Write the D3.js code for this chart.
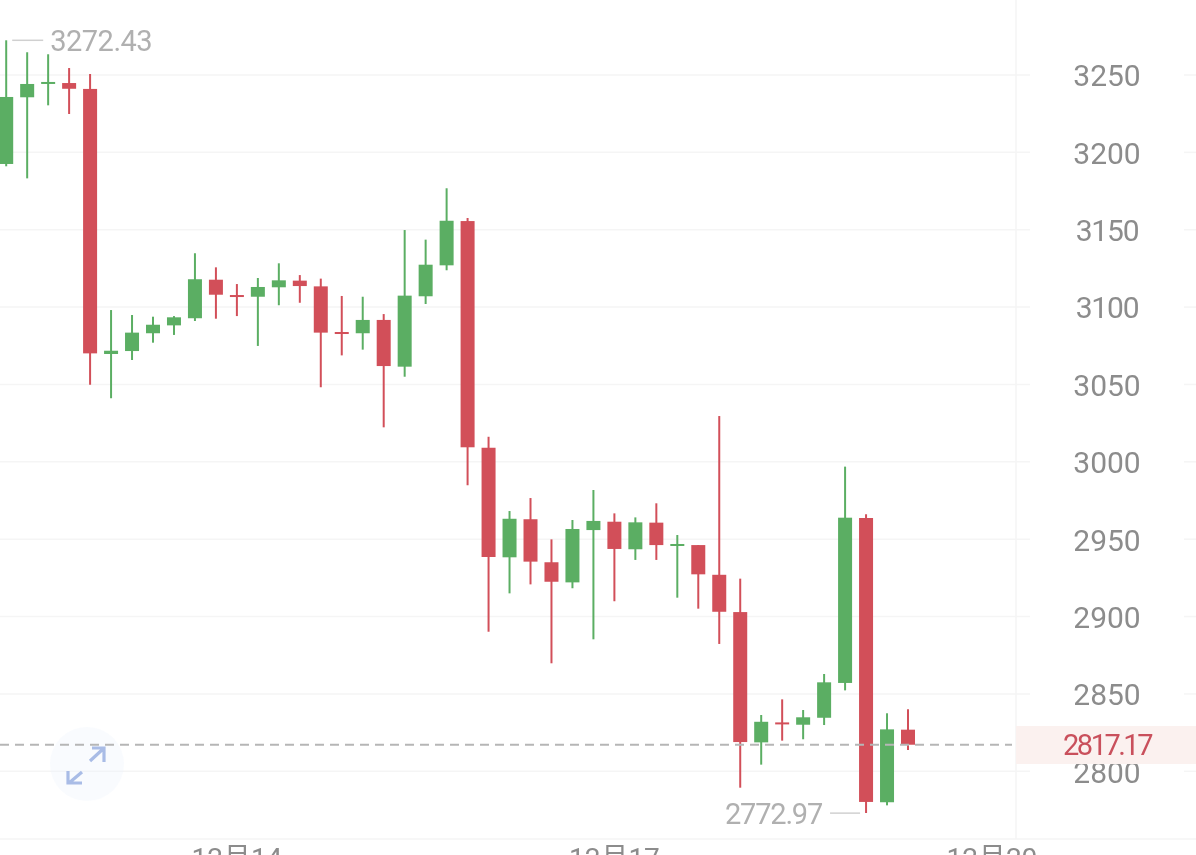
<!DOCTYPE html>
<html><head><meta charset="utf-8">
<script src="https://cdn.jsdelivr.net/npm/d3@7/dist/d3.min.js"></script>
<style>html,body{margin:0;padding:0;background:#fff;overflow:hidden}svg{display:block;filter:blur(0.35px)}text{font-family:Roboto,"Noto Sans CJK SC",sans-serif}</style>
</head><body><svg id="c" width="1196" height="855"></svg>
<script>
const open  = [3192.5,3235.6,3244.5,3244.8,3241.0,3069.7,3071.6,3083.1,3088.2,3092.8,3117.7,3107.8,3106.7,3112.8,3117.1,3113.4,3083.9,3083.1,3091.7,3061.5,3107.0,3127.0,3155.6,3009.1,2938.3,2962.9,2935.1,2922.1,2955.9,2961.3,2943.5,2960.7,2946.0,2946.2,2927.0,2902.9,2818.7,2831.6,2830.1,2834.6,2857.1,2963.7,2780.0,2826.9];
const close = [3235.8,3244.2,3245.5,3241.1,3070.1,3071.8,3083.5,3088.6,3093.4,3118.0,3108.0,3107.2,3113.0,3117.3,3113.6,3083.5,3082.8,3091.7,3061.9,3107.4,3127.4,3155.8,3009.4,2938.5,2963.2,2935.5,2922.5,2956.6,2961.8,2943.7,2960.9,2946.2,2946.9,2927.3,2903.1,2818.9,2832.0,2830.6,2834.9,2857.5,2963.9,2780.2,2827.1,2817.17];
const high  = [3272.43,3264.7,3263.4,3254.5,3250.6,3098.1,3094.9,3093.8,3094.2,3134.8,3125.7,3114.9,3118.8,3128.3,3120.7,3118.4,3107.2,3106.7,3095.5,3149.8,3143.6,3176.8,3157.6,3016.2,2968.2,2976.6,2949.9,2962.4,2981.8,2966.7,2964.1,2973.2,2952.7,2946.2,3029.6,2924.5,2836.4,2846.5,2839.6,2862.9,2996.9,2966.1,2837.5,2840.1];
const low   = [3191.0,3183.2,3230.4,3224.8,3049.8,3041.1,3065.8,3077.0,3082.0,3091.0,3092.5,3094.2,3074.9,3101.2,3102.8,3048.2,3068.8,3072.5,3022.3,3055.0,3102.0,3123.8,2984.8,2890.2,2915.0,2920.8,2869.8,2918.3,2885.3,2909.9,2936.6,2936.6,2912.2,2905.1,2882.3,2789.4,2804.3,2819.8,2820.7,2829.9,2852.3,2772.97,2778.0,2813.8];
const priceTicks = [3250,3200,3150,3100,3050,3000,2950,2900,2850,2800];
const dateIndex = [11,29,47];
const dateLabels = ["12月14","12月17","12月20"];
const lastPrice = 2817.17, maxPrice = 3272.43, minPrice = 2772.97, maxIdx = 0, minIdx = 41;

const GREEN="#5bae63", RED="#d24f59", GRID="#f5f5f5";
const svg=d3.select("#c");
const x=d3.scaleLinear().domain([0,43]).range([6.2,908]);
const y=d3.scaleLinear().domain([3250,2800]).range([75,771.3]);

// grid (left of the price labels, then the short stub at the far right)
const grid=svg.append("g").attr("stroke",GRID).attr("stroke-width",1.5);
priceTicks.forEach(p=>{
  grid.append("line").attr("x1",0).attr("x2",1030).attr("y1",y(p)).attr("y2",y(p));
  grid.append("line").attr("x1",1184).attr("x2",1196).attr("y1",y(p)).attr("y2",y(p));
});
grid.append("line").attr("x1",0).attr("x2",1196).attr("y1",839).attr("y2",839);
grid.append("line").attr("x1",1016).attr("x2",1016).attr("y1",0).attr("y2",839);

// candles
const idx=d3.range(open.length);
const col=i=>close[i]>=open[i]?GREEN:RED;
const g=svg.append("g");
g.selectAll("line.w").data(idx).join("line").attr("class","w")
  .attr("x1",i=>x(i)).attr("x2",i=>x(i)).attr("y1",i=>y(high[i])).attr("y2",i=>y(low[i]))
  .attr("stroke",col).attr("stroke-width",2);
g.selectAll("rect.b").data(idx).join("rect").attr("class","b")
  .attr("x",i=>x(i)-7).attr("width",14)
  .attr("y",i=>y(Math.max(open[i],close[i])))
  .attr("height",i=>Math.max(2,Math.abs(y(open[i])-y(close[i]))))
  .attr("fill",col);

// expand button
const btn=svg.append("g");
btn.append("circle").attr("cx",87).attr("cy",764).attr("r",37).attr("fill","#eef3fc").attr("opacity",.35);
btn.append("path").attr("d","M90 761 L103 749 M92 748 L104 748 L104 762 M82 772 L69 783 M68 771 L68 783 L82 783")
  .attr("fill","none").attr("stroke","#a9bce6").attr("stroke-width",3.2);

// last price line
svg.append("line").attr("x1",0).attr("x2",1012).attr("y1",y(lastPrice)).attr("y2",y(lastPrice))
  .attr("stroke","#b6b6b6").attr("stroke-width",2).attr("stroke-dasharray","9 6");

// price axis
const axis=d3.axisRight(y).tickValues(priceTicks).tickSize(0).tickPadding(0).tickFormat(d3.format("d"));
const ag=svg.append("g").attr("transform","translate(1107,0)").call(axis);
ag.select(".domain").remove();
ag.selectAll("text").attr("x",0).attr("dy","0.36em").attr("text-anchor","middle")
  .style("font-size","30px").style("fill","#8c8c8c")
  .style("letter-spacing",d=>String(d).includes("1")?"-1.2px":"0px");

// last price tag
svg.append("rect").attr("x",1016).attr("y",726).attr("width",180).attr("height",38).attr("fill","#fbf1ef");
svg.append("text").attr("x",1107).attr("y",y(lastPrice)).attr("dy","0.36em").attr("text-anchor","middle")
  .style("font-size","29px").style("fill","#c9505c").style("letter-spacing","-2.5px").text(lastPrice.toFixed(2));

// date labels
svg.selectAll("text.d").data(dateIndex).join("text").attr("class","d")
  .attr("x",i=>x(i)).attr("y",868).attr("text-anchor","middle")
  .style("font-size","28px").style("fill","#8c8c8c").text((d,i)=>dateLabels[i]);

// extreme markers
const LBL="#b0b0b0";
svg.append("line").attr("x1",x(maxIdx)+6).attr("x2",x(maxIdx)+37).attr("y1",y(maxPrice)).attr("y2",y(maxPrice)).attr("stroke","#d0d0d0").attr("stroke-width",1.5);
svg.append("text").attr("x",x(maxIdx)+44).attr("y",y(maxPrice)).attr("dy","0.36em").style("font-size","29px").style("fill",LBL).style("letter-spacing","-0.5px").text(maxPrice.toFixed(2));
svg.append("line").attr("x1",x(minIdx)-36).attr("x2",x(minIdx)-6).attr("y1",y(minPrice)).attr("y2",y(minPrice)).attr("stroke","#d0d0d0").attr("stroke-width",1.5);
svg.append("text").attr("x",x(minIdx)-44).attr("y",y(minPrice)).attr("dy","0.36em").attr("text-anchor","end").style("font-size","29px").style("fill",LBL).style("letter-spacing","-1.2px").text(minPrice.toFixed(2));
</script></body></html>
